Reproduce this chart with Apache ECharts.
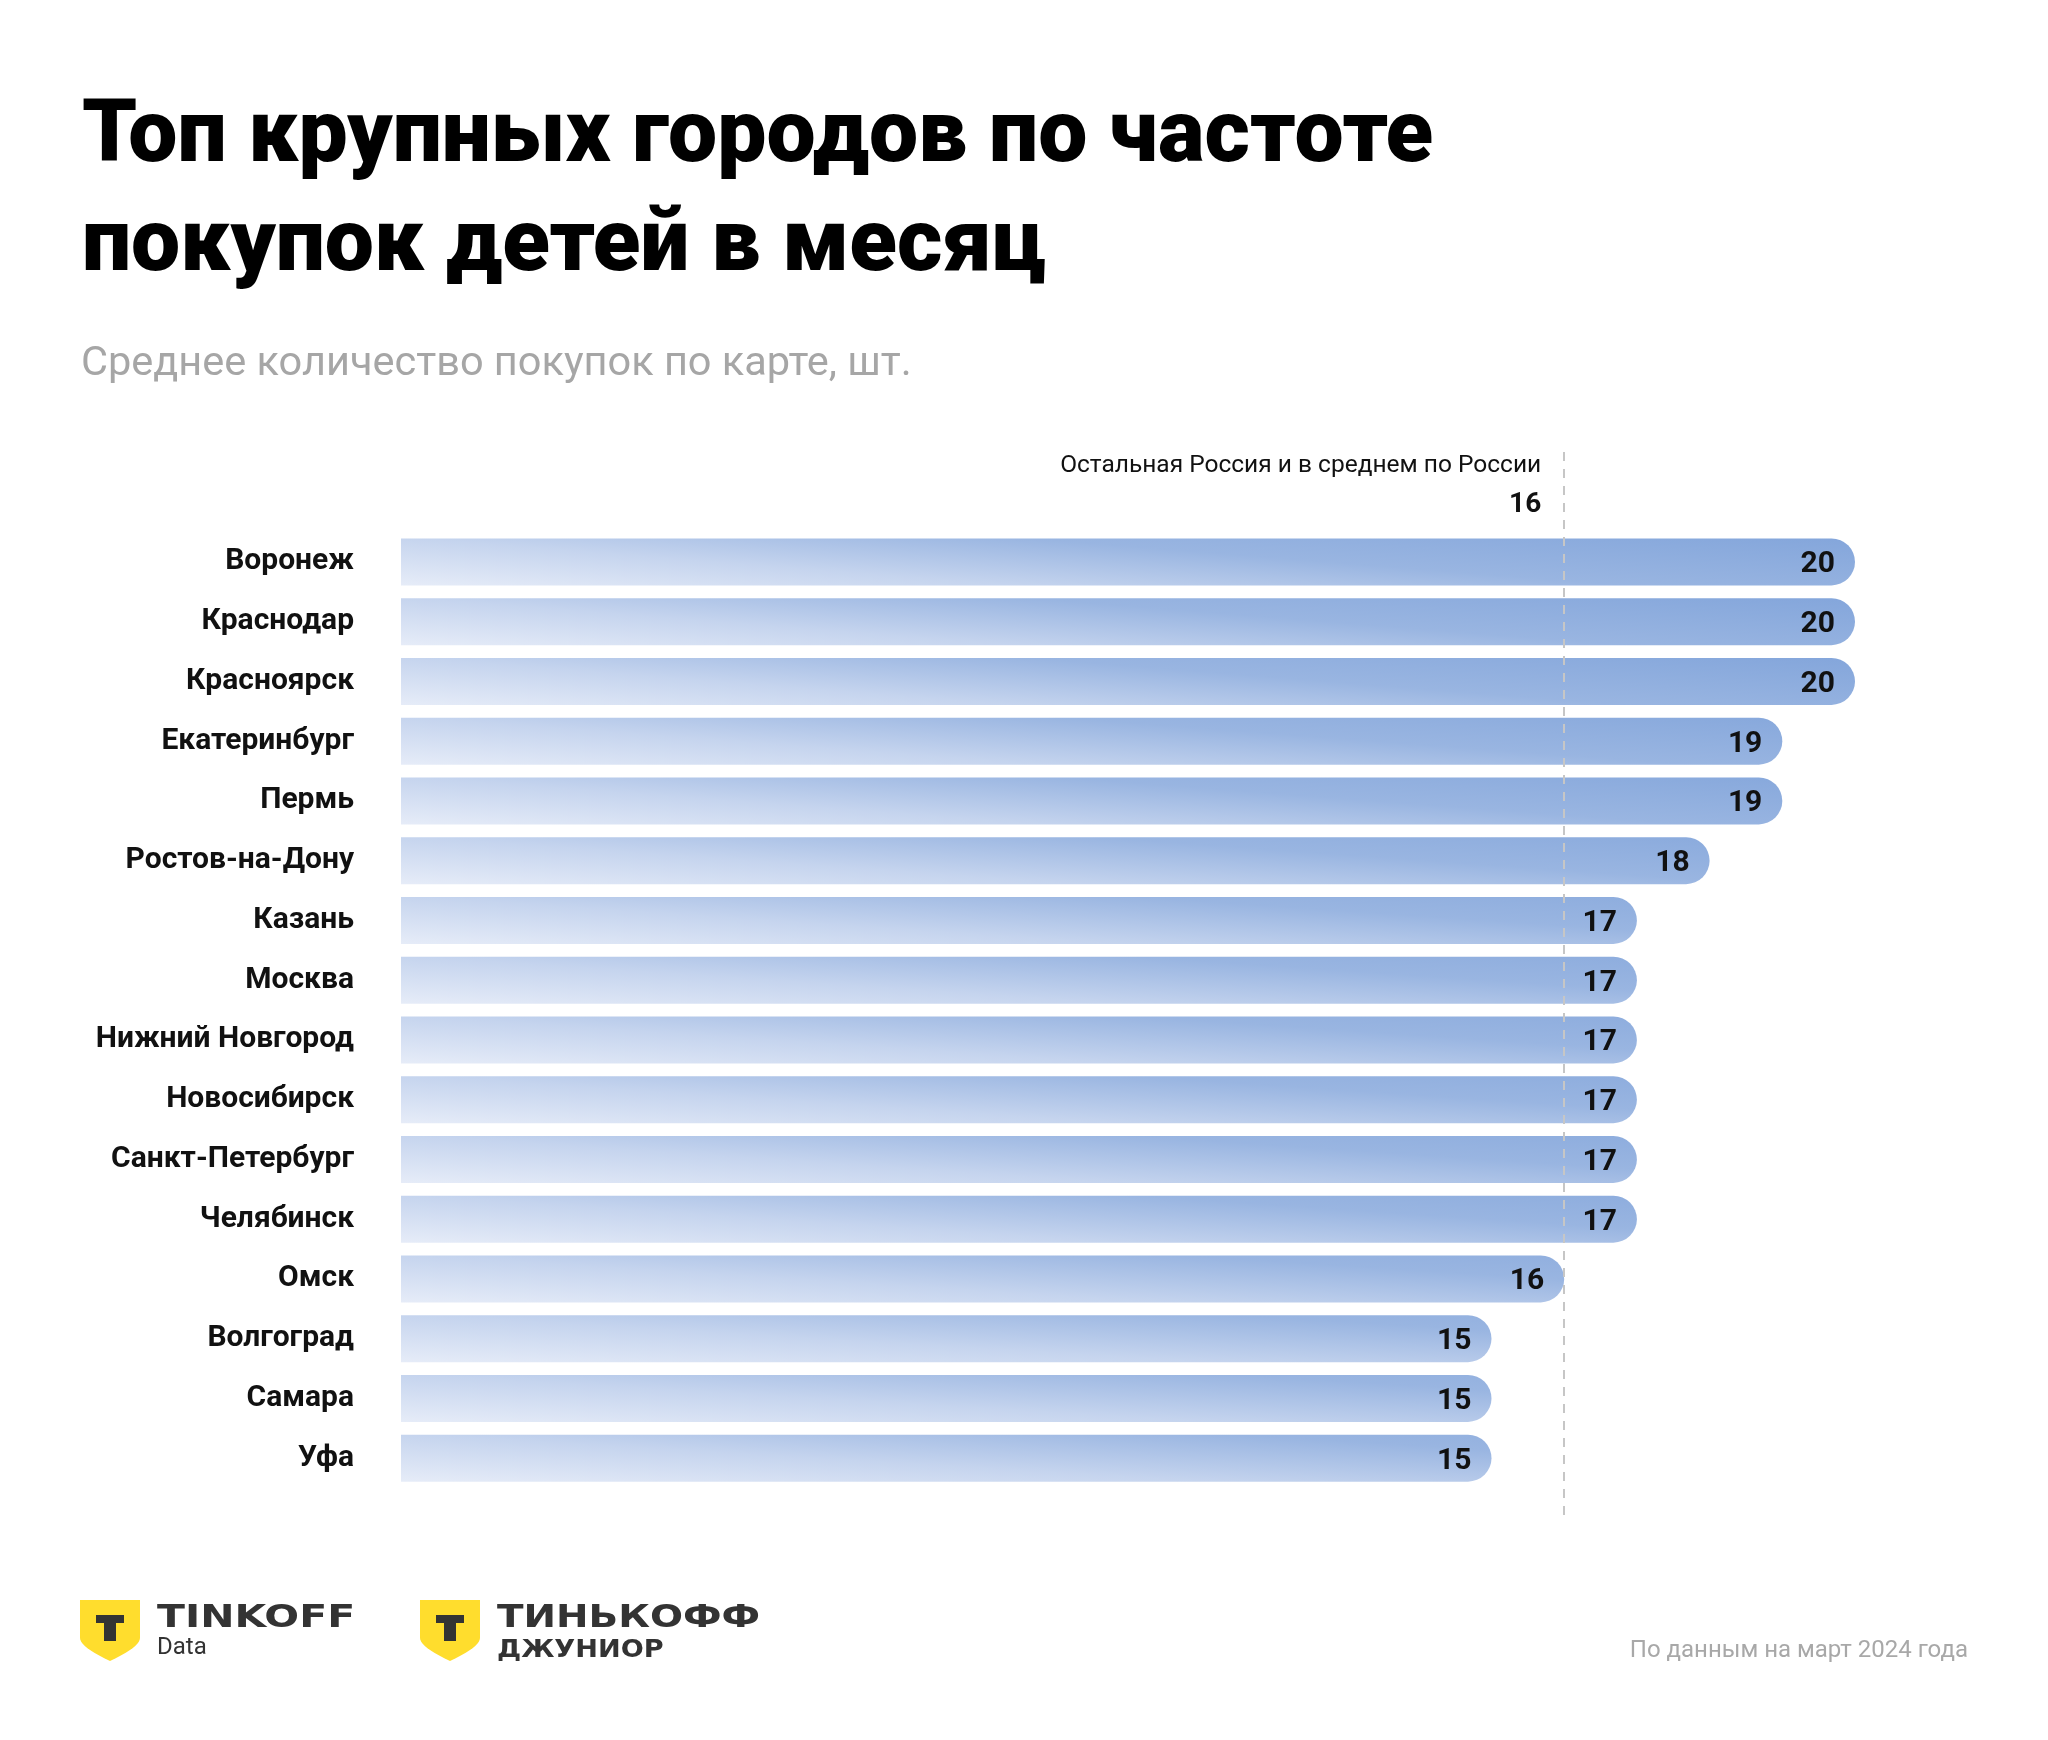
<!DOCTYPE html>
<html><head><meta charset="utf-8">
<script src="https://cdn.jsdelivr.net/npm/echarts@6.0.0/dist/echarts.min.js"></script>
<style>html,body{margin:0;padding:0;background:#fff}#c{width:2048px;height:1740px}</style>
</head><body><div id="c"></div>
<script>
const cities = ['Воронеж','Краснодар','Красноярск','Екатеринбург','Пермь','Ростов-на-Дону','Казань','Москва','Нижний Новгород','Новосибирск','Санкт-Петербург','Челябинск','Омск','Волгоград','Самара','Уфа'];
const purchases = [20,20,20,19,19,18,17,17,17,17,17,17,16,15,15,15];
const russiaAverage = 16;
const averageLabel = 'Остальная Россия и в среднем по России';
const titleText = 'Топ крупных городов по частоте\nпокупок детей в месяц';
const subtitleText = 'Среднее количество покупок по карте, шт.';
const sourceText = 'По данным на март 2024 года';

const chart = echarts.init(document.getElementById('c'), null, {renderer:'canvas'});
const barGradient = new echarts.graphic.LinearGradient(0, 1, 0.0086, -2.39, [
  {offset:0, color:'#e6ecf8'},
  {offset:0.3, color:'#c5d4ee'},
  {offset:0.6, color:'#99b5e1'},
  {offset:1, color:'#84a6db'}
]);
chart.setOption({
  animation:false,
  backgroundColor:'#ffffff',
  title:[
    {text:titleText, left:77, top:80,
     textStyle:{fontFamily:'Roboto', fontWeight:900, fontSize:87.5, lineHeight:109, color:'#000'}},
    {text:subtitleText, left:76, top:339,
     textStyle:{fontFamily:'Roboto', fontWeight:400, fontSize:41.5, color:'#a6a6a6'}}
  ],
  grid:[
    {left:401, right:193, top:532, height:956},
    {left:401, right:193, top:445, bottom:225}
  ],
  xAxis:[
    {gridIndex:0, type:'value', min:0, max:20, show:false},
    {gridIndex:1, type:'value', min:0, max:20, show:false}
  ],
  yAxis:[
    {gridIndex:0, type:'category', data:cities, inverse:true,
     axisLine:{show:false}, axisTick:{show:false}, splitLine:{show:false},
     axisLabel:{margin:47, padding:[6,0,0,0], backgroundColor:'rgba(255,255,255,0)', fontFamily:'Roboto', fontWeight:700, fontSize:30, color:'#111'}},
    {gridIndex:1, type:'value', min:0, max:1, show:false}
  ],
  series:[
    {type:'line', xAxisIndex:1, yAxisIndex:1, data:[[0,0]], showSymbol:false, z:1,
     lineStyle:{opacity:0}, silent:true,
     markLine:{silent:true, symbol:['none','none'], label:{show:false},
       lineStyle:{type:[9,8], color:'#c6c6c6', width:2},
       data:[{xAxis:russiaAverage}]}},
    {type:'bar', xAxisIndex:0, yAxisIndex:0, data:purchases, barWidth:47, z:3,
     itemStyle:{borderRadius:[0,23.5,23.5,0], color:barGradient},
     label:{show:true, position:'insideRight', distance:20, offset:[0,3], fontFamily:'Roboto', fontWeight:700, fontSize:30, color:'#111'}}
  ]
});

const avgX = chart.convertToPixel({xAxisIndex:0}, russiaAverage);
function shield(x0){
  const pts = [[x0,1600],[x0+60,1600],[x0+60,1638]];
  for (let i=1;i<=10;i++){ const t=i/10; const a=(1-t)*(1-t), b=2*(1-t)*t, c=t*t;
    pts.push([a*(x0+60)+b*(x0+60)+c*(x0+30), a*1638+b*1647+c*1661]); }
  for (let i=1;i<=10;i++){ const t=i/10; const a=(1-t)*(1-t), b=2*(1-t)*t, c=t*t;
    pts.push([a*(x0+30)+b*x0+c*x0, a*1661+b*1647+c*1638]); }
  return [
    {type:'polygon', shape:{points:pts}, style:{fill:'#FFDD2D'}},
    {type:'rect', shape:{x:x0+16, y:1615, width:28, height:8}, style:{fill:'#333'}},
    {type:'rect', shape:{x:x0+24, y:1615, width:12, height:26}, style:{fill:'#333'}}
  ];
}
chart.setOption({
  graphic:[
    {type:'text', x:avgX-23, y:466, style:{text:averageLabel, fontFamily:'Roboto', fontSize:24.5, fill:'#111', align:'right', verticalAlign:'middle'}},
    {type:'text', x:avgX-23, y:505, style:{text:String(russiaAverage), fontFamily:'Roboto', fontWeight:700, fontSize:28, fill:'#111', align:'right', verticalAlign:'middle'}},
    ...shield(80), ...shield(420),
    {type:'text', x:157, y:1619, scaleX:1.28, style:{text:'TINKOFF', fontFamily:'DejaVu Sans', fontWeight:700, fontSize:32, fill:'#333', align:'left', verticalAlign:'middle'}},
    {type:'text', x:157, y:1648, style:{text:'Data', fontFamily:'Roboto', fontWeight:400, fontSize:24, fill:'#333', align:'left', verticalAlign:'middle'}},
    {type:'text', x:497, y:1619, scaleX:1.215, style:{text:'ТИНЬКОФФ', fontFamily:'DejaVu Sans', fontWeight:700, fontSize:32, fill:'#333', align:'left', verticalAlign:'middle'}},
    {type:'text', x:497, y:1651, scaleX:1.13, style:{text:'ДЖУНИОР', fontFamily:'DejaVu Sans', fontWeight:700, fontSize:24, fill:'#333', align:'left', verticalAlign:'middle'}},
    {type:'text', x:1968, y:1651, style:{text:sourceText, fontFamily:'Roboto', fontSize:24, fill:'#a8a8a8', align:'right', verticalAlign:'middle'}}
  ]
});
</script></body></html>
